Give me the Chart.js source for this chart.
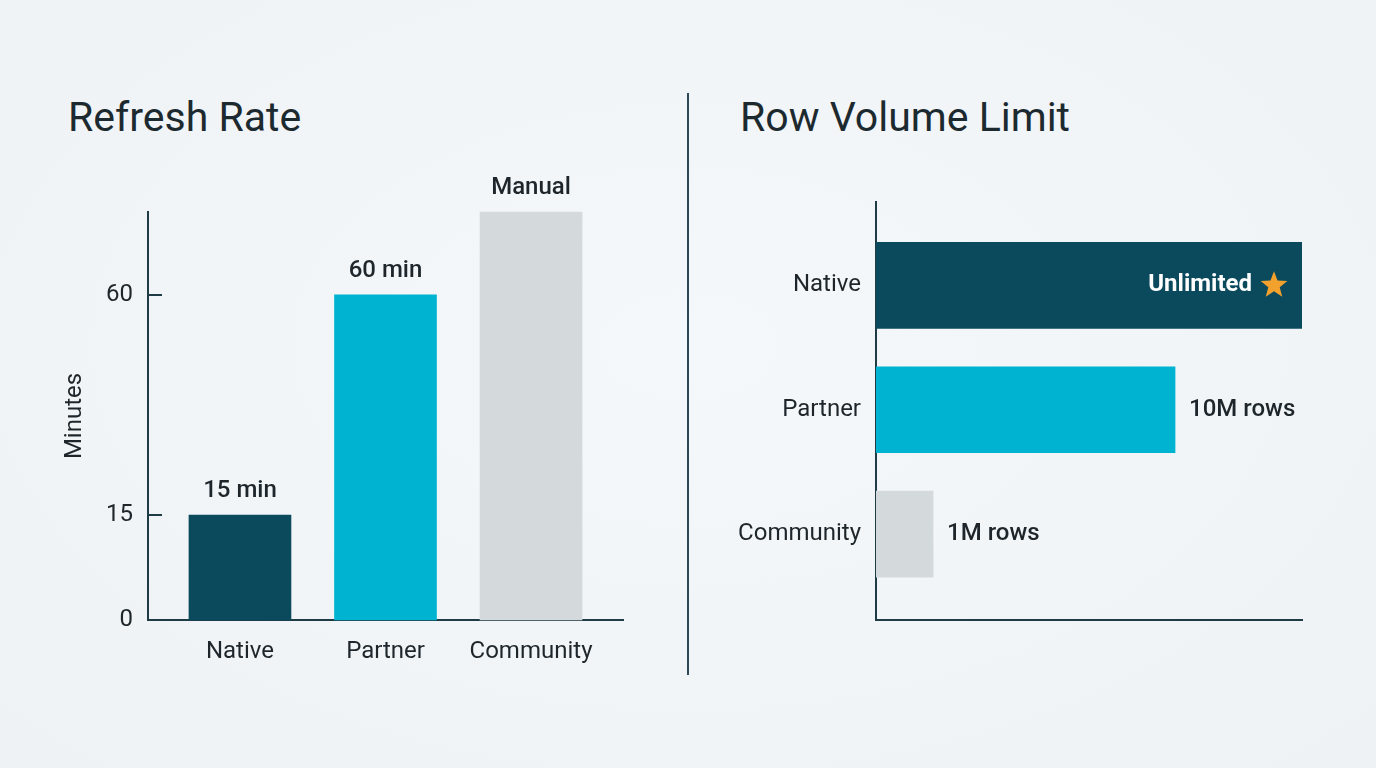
<!DOCTYPE html>
<html lang="en">
<head>
<meta charset="UTF-8">
<title>Refresh Rate / Row Volume Limit</title>
<script src="https://cdn.jsdelivr.net/npm/chart.js"></script>
<style>
  html, body { margin: 0; padding: 0; }
  body {
    width: 1376px; height: 768px; position: relative; overflow: hidden;
    background: radial-gradient(ellipse at 50% 45%, #f5f8fa 0%, #eef2f5 100%);
    font-family: Roboto, "Noto Sans", sans-serif;
  }
  .title { position: absolute; top: 95px; font-size: 41px; line-height: 44px; color: #1c2a30; }
  #divider { position: absolute; left: 687px; top: 93px; width: 2px; height: 582px; background: #2b4953; }
  canvas { position: absolute; top: 0; }
</style>
</head>
<body>
<div class="title" style="left:68px">Refresh Rate</div>
<div class="title" style="left:740px">Row Volume Limit</div>
<div id="divider"></div>
<canvas id="refreshChart" width="688" height="768" style="left:0"></canvas>
<canvas id="rowsChart" width="688" height="768" style="left:688px"></canvas>

<script>
// Data
const refreshCategories = ['Native', 'Partner', 'Community'];
const refreshMinutes = [15, 60, 90];          // "Manual" drawn at the top of the axis
const refreshLabels = ['15 min', '60 min', 'Manual'];
const refreshTicks = [0, 15, 60];

const rowCategories = ['Native', 'Partner', 'Community'];
const rowMillions = [15, 10, 1];              // "Unlimited" drawn at the end of the axis
const rowLabels = ['Unlimited', '10M rows', '1M rows'];

const barColors = ['#0b4a5c', '#00b4d1', '#d4d9dc'];

const AXIS = '#1f3b46';
const TEXT = '#1e262b';

// piecewise scale: the reference axes are not linear
class BrokenScale extends Chart.LinearScale {
  static id = 'broken';
  static defaults = {};
  _frac(v) {
    const b = this.options.breaks, p = this.options.breakPos;
    if (v <= b[0]) return p[0];
    for (let i = 1; i < b.length; i++) {
      if (v <= b[i]) return p[i - 1] + (v - b[i - 1]) / (b[i] - b[i - 1]) * (p[i] - p[i - 1]);
    }
    return p[p.length - 1];
  }
  getPixelForValue(value) {
    return this.getPixelForDecimal(this._frac(value));
  }
  getValueForPixel(pixel) {
    const f = this.getDecimalForPixel(pixel);
    const b = this.options.breaks, p = this.options.breakPos;
    for (let i = 1; i < p.length; i++) {
      if (f <= p[i]) return b[i - 1] + (f - p[i - 1]) / (p[i] - p[i - 1]) * (b[i] - b[i - 1]);
    }
    return b[b.length - 1];
  }
}
Chart.register(BrokenScale);

Chart.defaults.font.family = 'Roboto, "Noto Sans", sans-serif';
Chart.defaults.color = TEXT;

// Left chart: refresh rate
const refreshLabelPlugin = {
  id: 'refreshLabels',
  afterDraw(chart) {
    const ctx = chart.ctx;
    const ys = chart.scales.y;
    // inward tick marks
    ctx.save();
    ctx.strokeStyle = AXIS;
    ctx.lineWidth = 2;
    ys.ticks.forEach(t => {
      const py = Math.round(ys.getPixelForValue(t.value));
      if (t.value === 0) return;
      ctx.beginPath();
      ctx.moveTo(ys.right, py);
      ctx.lineTo(ys.right + 14, py);
      ctx.stroke();
    });
    // value labels above bars
    ctx.font = '500 24px Roboto, "Noto Sans", sans-serif';
    ctx.fillStyle = TEXT;
    ctx.textAlign = 'center';
    ctx.textBaseline = 'middle';
    chart.getDatasetMeta(0).data.forEach((bar, i) => {
      ctx.fillText(refreshLabels[i], bar.x, bar.y - 24);
    });
    ctx.restore();
  }
};

new Chart(document.getElementById('refreshChart'), {
  type: 'bar',
  data: {
    datasets: [{
      data: refreshMinutes.map((v, i) => ({ x: i, y: v })),
      backgroundColor: barColors,
      barThickness: 102,
      clip: false
    }]
  },
  options: {
    responsive: false,
    animation: false,
    layout: { padding: { top: 212, right: 65, bottom: 0, left: 0 } },
    plugins: { legend: { display: false }, tooltip: { enabled: false } },
    scales: {
      x: {
        type: 'linear',
        offset: false,
        min: -0.632,
        max: 2.632,
        afterBuildTicks: s => { s.ticks = refreshCategories.map((c, i) => ({ value: i })); },
        afterFit: s => { s.height = 148; },
        grid: { display: false, drawTicks: false, offset: false },
        border: { display: true, color: AXIS, width: 2 },
        ticks: {
          callback: v => refreshCategories[v],
          padding: 18,
          font: { size: 24 },
          color: TEXT,
          maxRotation: 0,
          autoSkip: false
        }
      },
      y: {
        type: 'broken',
        min: 0,
        max: 90,
        breaks: [0, 15, 60, 90],
        breakPos: [0, 0.257, 0.797, 1],
        afterBuildTicks: s => { s.ticks = refreshTicks.map(v => ({ value: v })); },
        afterFit: s => { s.width = 148; },
        grid: { display: false, drawTicks: false },
        border: { display: true, color: AXIS, width: 2 },
        ticks: { padding: 15, font: { size: 24 }, color: TEXT, autoSkip: false },
        title: {
          display: true,
          text: 'Minutes',
          font: { size: 24 },
          color: TEXT,
          padding: { top: 61, bottom: 0 }
        }
      }
    }
  },
  plugins: [refreshLabelPlugin]
});

// Right chart: row volume limit
function drawStar(ctx, cx, cy, rOut, rIn) {
  ctx.beginPath();
  for (let i = 0; i < 10; i++) {
    const r = i % 2 === 0 ? rOut : rIn;
    const a = -Math.PI / 2 + i * Math.PI / 5;
    const px = cx + r * Math.cos(a), py = cy + r * Math.sin(a);
    if (i === 0) ctx.moveTo(px, py); else ctx.lineTo(px, py);
  }
  ctx.closePath();
  ctx.fill();
}

const rowLabelPlugin = {
  id: 'rowLabels',
  afterDraw(chart) {
    const ctx = chart.ctx;
    ctx.save();
    ctx.textBaseline = 'middle';
    chart.getDatasetMeta(0).data.forEach((bar, i) => {
      if (i === 0) {
        // label inside the full-length bar, with a star
        ctx.font = 'bold 24px Roboto, "Noto Sans", sans-serif';
        ctx.fillStyle = '#ffffff';
        ctx.textAlign = 'right';
        ctx.fillText(rowLabels[i], bar.x - 50, bar.y);
        ctx.fillStyle = '#f2a22c';
        drawStar(ctx, bar.x - 28, bar.y, 14, 6);
      } else {
        ctx.font = '500 24px Roboto, "Noto Sans", sans-serif';
        ctx.fillStyle = TEXT;
        ctx.textAlign = 'left';
        ctx.fillText(rowLabels[i], bar.x + 14, bar.y);
      }
    });
    ctx.restore();
  }
};

new Chart(document.getElementById('rowsChart'), {
  type: 'bar',
  data: {
    datasets: [{
      data: rowMillions.map((v, i) => ({ x: v, y: i })),
      backgroundColor: barColors,
      barThickness: 86
    }]
  },
  options: {
    indexAxis: 'y',
    responsive: false,
    animation: false,
    layout: { padding: { top: 202, right: 74, bottom: 0, left: 0 } },
    plugins: { legend: { display: false }, tooltip: { enabled: false } },
    scales: {
      x: {
        type: 'broken',
        min: 0,
        max: 15,
        breaks: [0, 1, 10, 15],
        breakPos: [0, 0.134, 0.702, 1],
        afterFit: s => { s.height = 148; },
        grid: { display: false, drawTicks: false },
        border: { display: true, color: AXIS, width: 2 },
        ticks: { display: false }
      },
      y: {
        type: 'linear',
        offset: false,
        reverse: true,
        min: -0.67,
        max: 2.69,
        afterBuildTicks: s => { s.ticks = rowCategories.map((c, i) => ({ value: i })); },
        afterFit: s => { s.width = 188; },
        grid: { display: false, drawTicks: false, offset: false },
        border: { display: true, color: AXIS, width: 2 },
        ticks: {
          callback: v => rowCategories[v],
          padding: 15,
          font: { size: 24 },
          color: TEXT,
          autoSkip: false
        }
      }
    }
  },
  plugins: [rowLabelPlugin]
});
</script>
</body>
</html>
